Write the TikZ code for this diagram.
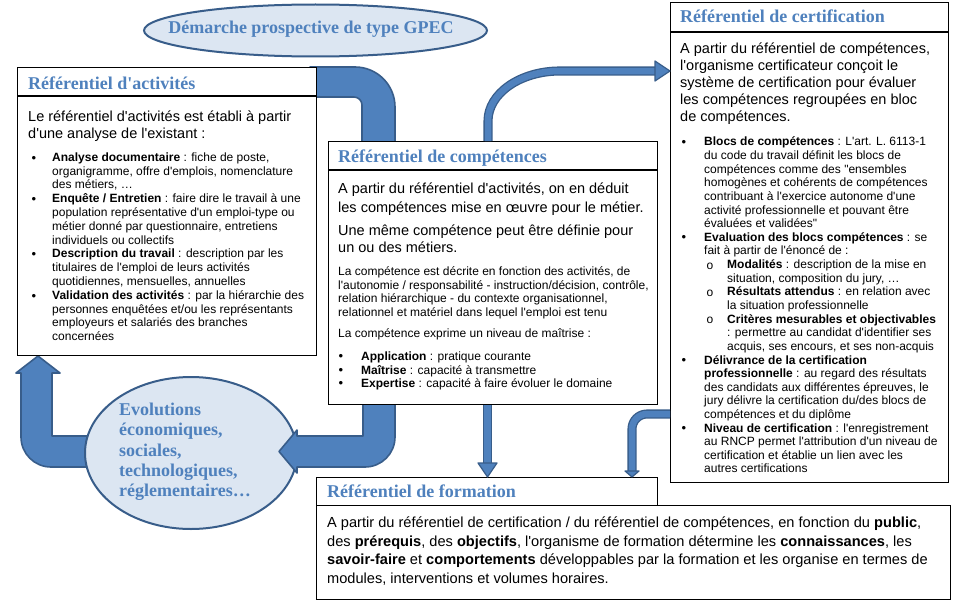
\documentclass[tikz,border=0pt]{standalone}
\usepackage{fontspec}
\setmainfont{Liberation Sans}[Ligatures=TeXOff]
\newfontfamily\ttlfont{Liberation Serif}[Ligatures=TeXOff]
\definecolor{ablue}{HTML}{4F81BD}
\definecolor{dblue}{HTML}{385D8A}
\definecolor{lblue}{HTML}{DCE6F2}
\tikzset{
  box/.style={draw=black, line width=1.1pt, fill=white, inner sep=0, anchor=north west},
  sepline/.style={draw=black, line width=1.1pt},
  ttl/.style={anchor=base west, inner sep=0, font=\ttlfont\bfseries\fontsize{18}{20}\selectfont, text=ablue},
  para/.style={anchor=north west, inner sep=0, align=left, execute at begin node=\strut},
  big/.style={para, font=\fontsize{14.5}{17}\selectfont, yshift=11.9pt},
  bigb/.style={para, font=\fontsize{14.5}{18.5}\selectfont, yshift=12.95pt},
  bigf/.style={para, font=\fontsize{14.6}{18.7}\selectfont, yshift=13.09pt},
  small/.style={para, font=\fontsize{12}{13.7}\selectfont, yshift=9.59pt},
  csmall/.style={para, font=\fontsize{12}{13.63}\selectfont, yshift=9.541pt},
  bul/.style={anchor=base, inner sep=0, font=\fontsize{13}{13.7}\selectfont},
  fat/.style={fill=ablue, draw=dblue, line width=1.6pt, line join=round},
  thinarr/.style={draw=dblue, double=ablue, double distance=6.5pt, line width=1.3pt},
  headarr/.style={fill=ablue, draw=dblue, line width=1.2pt, line join=round},
  evell/.style={draw=dblue, fill=lblue, line width=2pt},
  evtext/.style={inner sep=0, font=\ttlfont\bfseries\fontsize{18}{20.3}\selectfont, text=ablue}
}
\begin{document}
\begin{tikzpicture}[x=1pt,y=-1pt]
\useasboundingbox (0,0) rectangle (960,610);
\fill[white] (0,0) rectangle (960,610);

% big arrow activites -> competences
\draw[fat] (310,67) -- (355,67) .. controls (377.1,67) and (395,84.9) .. (395,107)
  -- (395,150) -- (362,150) -- (362,105) .. controls (362,100.6) and (358.4,97) .. (354,97)
  -- (310,97) -- cycle;
% big arrow evolutions -> activites
\draw[fat] (38,356) -- (60,373) -- (52,373) -- (52,436) -- (110,436) -- (110,467) -- (51,467)
  .. controls (34.4,467) and (21,453.6) .. (21,437) -- (21,373) -- (16,373) -- cycle;

% ellipse evolutions
\draw[evell] (191,453) ellipse [x radius=106, y radius=76];
\node[evtext, para, yshift=14.21pt] (evoT) at (119,417)
  {Evolutions\\économiques,\\sociales,\\technologiques,\\réglementaires…};

% big arrow competences -> evolutions
\draw[fat] (363,398) -- (363,436) -- (297,436) -- (297,430) -- (279,451.5) -- (297,473) -- (297,467)
  -- (365,467) .. controls (381.6,467) and (395,453.6) .. (395,437) -- (395,398) -- cycle;

% boxes
\node[box, minimum width=299, minimum height=288] (act) at (17,67) {};
\draw[sepline] (17,96) -- (316,96);
\node[box, minimum width=329, minimum height=263] (comp) at (328,141) {};
\draw[sepline] (328,170) -- (657,170);
\node[box, minimum width=278, minimum height=480] (cert) at (670,2) {};
\draw[sepline] (670,32) -- (948,32);
\node[box, minimum width=341, minimum height=28] (formH) at (316,477) {};
\node[box, minimum width=634, minimum height=94] (form) at (316,505) {};

% GPEC ellipse
\draw[evell] (315.5,30.5) ellipse [x radius=171.5, y radius=26];
\node[evtext] (gpecT) at (311,29.5) {Démarche prospective de type GPEC};

% titles
\node[ttl] (actT) at (28,89) {Référentiel d'activités};
\node[ttl] (compT) at (338,162) {Référentiel de compétences};
\node[ttl] (certT) at (680,23) {Référentiel de certification};
\node[ttl] (formT) at (327,497) {Référentiel de formation};

% activites body
\node[big] (actP) at (28,123) {Le référentiel d'activités est établi à partir\\d'une analyse de l'existant :};
\node[bul] (actB1) at (34,162) {•};
\node[bul] (actB2) at (34,203.4) {•};
\node[bul] (actB3) at (34,258.6) {•};
\node[bul] (actB4) at (34,300) {•};
\node[small] (actI1) at (52,162) {\textbf{Analyse documentaire} : fiche de poste,\\organigramme, offre d'emplois, nomenclature\\des métiers, …};
\node[small] (actI2) at (52,203.4) {\textbf{Enquête / Entretien} : faire dire le travail à une\\population représentative d'un emploi-type ou\\métier donné par questionnaire, entretiens\\individuels ou collectifs};
\node[small] (actI3) at (52,258.6) {\textbf{Description du travail} : description par les\\titulaires de l'emploi de leurs activités\\quotidiennes, mensuelles, annuelles};
\node[small] (actI4) at (52,300) {\textbf{Validation des activités} : par la hiérarchie des\\personnes enquêtées et/ou les représentants\\employeurs et salariés des branches\\concernées};

% competences body
\node[bigb] (compP1) at (338,196) {A partir du référentiel d'activités, on en déduit\\les compétences mise en œuvre pour le métier.};
\node[big] (compP2) at (338,237) {Une même compétence peut être définie pour\\un ou des métiers.};
\node[small] (compP3) at (338,276) {La compétence est décrite en fonction des activités, de\\l'autonomie / responsabilité - instruction/décision, contrôle,\\relation hiérarchique - du contexte organisationnel,\\relationnel et matériel dans lequel l'emploi est tenu};
\node[small] (compP4) at (338,337) {La compétence exprime un niveau de maîtrise :};
\node[bul] (compB1) at (341,360.5) {•};
\node[bul] (compB2) at (341,374) {•};
\node[bul] (compB3) at (341,387.5) {•};
\node[small] (compI1) at (361,360.5) {\textbf{Application} : pratique courante};
\node[small] (compI2) at (361,374) {\textbf{Maîtrise} : capacité à transmettre};
\node[small] (compI3) at (361,387.5) {\textbf{Expertise} : capacité à faire évoluer le domaine};

% certification body
\node[big] (certP) at (680,55) {A partir du référentiel de compétences,\\l'organisme certificateur conçoit le\\système de certification pour évaluer\\les compétences regroupées en bloc\\de compétences.};
\node[bul] (certB1) at (684,146.5) {•};
\node[bul] (certB2) at (684,241.9) {•};
\node[bul] (certB3) at (684,364.6) {•};
\node[bul] (certB4) at (684,432.7) {•};
\node[bul, font=\fontsize{12}{13.7}\selectfont] (certS1) at (710,269.2) {o};
\node[bul, font=\fontsize{12}{13.7}\selectfont] (certS2) at (710,296.4) {o};
\node[bul, font=\fontsize{12}{13.7}\selectfont] (certS3) at (710,323.7) {o};
\node[csmall] (certI1) at (704,146.5) {\textbf{Blocs de compétences} : L'art. L. 6113-1\\du code du travail définit les blocs de\\compétences comme des "ensembles\\homogènes et cohérents de compétences\\contribuant à l'exercice autonome d'une\\activité professionnelle et pouvant être\\évaluées et validées"};
\node[csmall] (certI2) at (704,241.9) {\textbf{Evaluation des blocs compétences} : se\\fait à partir de l'énoncé de :};
\node[csmall] (certJ1) at (727,269.2) {\textbf{Modalités} : description de la mise en\\situation, composition du jury, …};
\node[csmall] (certJ2) at (727,296.4) {\textbf{Résultats attendus} : en relation avec\\la situation professionnelle};
\node[csmall] (certJ3) at (727,323.7) {\textbf{Critères mesurables et objectivables}\\: permettre au candidat d'identifier ses\\acquis, ses encours, et ses non-acquis};
\node[csmall] (certI3) at (704,364.6) {\textbf{Délivrance de la certification}\\\textbf{professionnelle} : au regard des résultats\\des candidats aux différentes épreuves, le\\jury délivre la certification du/des blocs de\\compétences et du diplôme};
\node[csmall] (certI4) at (704,432.7) {\textbf{Niveau de certification} : l'enregistrement\\au RNCP permet l'attribution d'un niveau de\\certification et établie un lien avec les\\autres certifications};

% formation body
\node[bigf] (formP) at (327,529.5) {A partir du référentiel de certification / du référentiel de compétences, en fonction du \textbf{public},\\des \textbf{prérequis}, des \textbf{objectifs}, l'organisme de formation détermine les \textbf{connaissances}, les\\\textbf{savoir-faire} et \textbf{comportements} développables par la formation et les organise en termes de\\modules, interventions et volumes horaires.};

% thin arrows
\coordinate (d0) at (comp.north -| 488,0);
\coordinate (d1) at (cert.west |- 0,71);
\draw[thinarr] (d0) -- (488,121) .. controls (488,93.4) and (520.2,71) .. (560,71) -- (656,71);
\draw[headarr] (655,61) -- (d1) -- (655,81) -- cycle;

\coordinate (e0) at (cert.west |- 0,414);
\coordinate (e1) at (formH.north -| 632,0);
\draw[thinarr] (e0) -- (647,414) .. controls (638.7,414) and (632,420.7) .. (632,429) -- (632,472);
\draw[headarr] (625,471) -- (e1) -- (639,471) -- cycle;

\coordinate (f0) at (comp.south -| 487.5,0);
\coordinate (f1) at (formH.north -| 487.5,0);
\draw[thinarr] (f0) -- (487.5,464);
\draw[headarr] (478,463) -- (f1) -- (497,463) -- cycle;
\end{tikzpicture}
\end{document}
